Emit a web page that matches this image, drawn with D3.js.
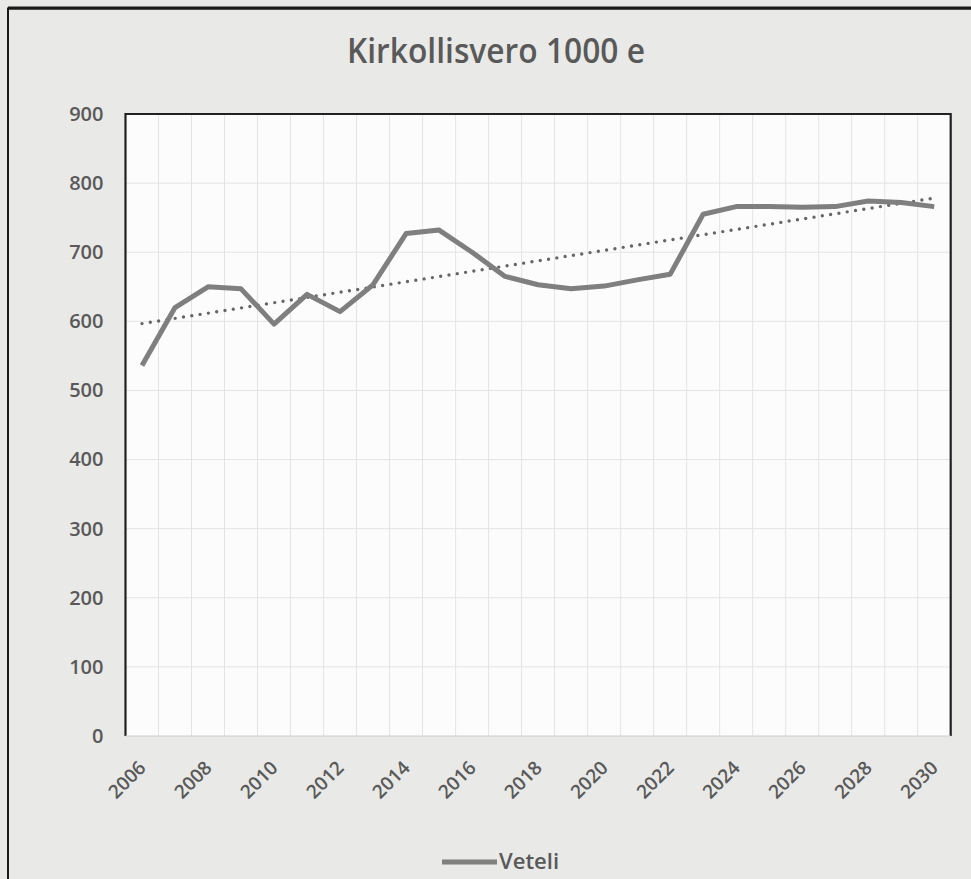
<!DOCTYPE html>
<html>
<head>
<meta charset="utf-8">
<script src="https://cdn.jsdelivr.net/npm/d3@7"></script>
<style>
  body { margin: 0; background: #e9e9e7; }
  svg { display: block; }
</style>
</head>
<body>
<div id="chart"></div>
<script>
(function() {
  var width = 971,
      height = 879;

  // data
  const years = ["2006","2007","2008","2009","2010","2011","2012","2013","2014","2015",
                 "2016","2017","2018","2019","2020","2021","2022","2023","2024","2025",
                 "2026","2027","2028","2029","2030"];
  const veteli = [536, 620, 650, 647, 596, 639, 614, 653, 727, 732,
                  700, 665, 653, 647, 651, 660, 668, 755, 766, 766,
                  765, 766, 774, 772, 766];
  const yTicks = [0, 100, 200, 300, 400, 500, 600, 700, 800, 900];
  const xLabels = ["2006","2008","2010","2012","2014","2016","2018","2020","2022",
                   "2024","2026","2028","2030"];
  const seriesName = "Veteli";
  const title = "Kirkollisvero 1000 e";

  const svg = d3.select("#chart").append("svg")
                .attr("width", width)
                .attr("height", height);

  // outer frame of the chart (heavier on top, as on the scan)
  svg.append("rect")
     .attr("x", 8).attr("y", 8.5)
     .attr("width", 1000).attr("height", 1000)
     .attr("fill", "none")
     .attr("stroke", "#1a1a1a")
     .attr("stroke-width", 2);
  svg.append("line")
     .attr("x1", 8).attr("x2", 971)
     .attr("y1", 8).attr("y2", 8)
     .attr("stroke", "#1a1a1a")
     .attr("stroke-width", 3);

  const left = 125.5, right = 950.7, top = 114, bottom = 736;

  var x = d3.scaleBand().domain(years).range([left, right]);
  var y = d3.scaleLinear().domain([0, 900]).range([bottom, top]);
  const cx = d => x(d) + x.bandwidth() / 2;

  // plot area
  svg.append("rect")
     .attr("x", left).attr("y", top)
     .attr("width", right - left).attr("height", bottom - top)
     .attr("fill", "#fcfcfc");

  // gridlines
  svg.append("g")
     .selectAll("line")
     .data(years.slice(1))
     .join("line")
     .attr("x1", d => x(d)).attr("x2", d => x(d))
     .attr("y1", top).attr("y2", bottom)
     .attr("stroke", "#e4e4e4")
     .attr("stroke-width", 1);

  svg.append("g")
     .selectAll("line")
     .data(yTicks.slice(1, -1))
     .join("line")
     .attr("x1", left).attr("x2", right)
     .attr("y1", d => y(d)).attr("y2", d => y(d))
     .attr("stroke", "#e4e4e4")
     .attr("stroke-width", 1);

  // frame of the plot area: heavy top, left and right
  svg.append("path")
     .attr("d", `M${left},${bottom}V${top}H${right}V${bottom}`)
     .attr("fill", "none")
     .attr("stroke", "#222")
     .attr("stroke-width", 2.2);
  svg.append("line")
     .attr("x1", left).attr("x2", right)
     .attr("y1", bottom).attr("y2", bottom)
     .attr("stroke", "#d0d0d0")
     .attr("stroke-width", 1);

  // y axis
  const yAxis = svg.append("g")
     .attr("transform", `translate(${left},0)`)
     .call(d3.axisLeft(y).tickValues(yTicks).tickSize(0).tickPadding(22));
  yAxis.select(".domain").remove();
  yAxis.selectAll("text")
       .attr("font-family", "Open Sans, sans-serif")
       .attr("font-size", 20)
       .attr("font-weight", 600)
       .attr("fill", "#595959");

  // x axis labels, rotated
  const xAxis = svg.append("g")
     .attr("transform", `translate(0,${bottom})`)
     .call(d3.axisBottom(x).tickValues(xLabels).tickSize(0));
  xAxis.select(".domain").remove();
  xAxis.selectAll("text")
       .attr("font-family", "Open Sans, sans-serif")
       .attr("font-size", 19)
       .attr("font-weight", 600)
       .attr("fill", "#595959")
       .attr("text-anchor", "end")
       .attr("dy", null)
       .attr("y", 0)
       .attr("transform", "translate(5,33) rotate(-45)");

  // linear trendline (least squares, like the spreadsheet trendline)
  const n = veteli.length;
  const mx = d3.mean(veteli, (d, i) => i);
  const my = d3.mean(veteli);
  const slope = d3.sum(veteli, (d, i) => (i - mx) * (d - my)) / d3.sum(veteli, (d, i) => (i - mx) * (i - mx));
  const trend = [0, n - 1].map(i => [cx(years[i]), y(my + slope * (i - mx))]);

  svg.append("path")
     .attr("d", d3.line()(trend))
     .attr("fill", "none")
     .attr("stroke", "#666")
     .attr("stroke-width", 3.4)
     .attr("stroke-linecap", "round")
     .attr("stroke-dasharray", "0 8.4");

  // the series line
  var line = d3.line()
               .x((d, i) => cx(years[i]))
               .y(d => y(d));
  svg.append("path")
     .datum(veteli)
     .attr("d", line)
     .attr("fill", "none")
     .attr("stroke", "#7f7f7f")
     .attr("stroke-width", 5)
     .attr("stroke-linejoin", "round");

  // title
  svg.append("text")
     .attr("x", 496).attr("y", 63)
     .attr("text-anchor", "middle")
     .attr("font-family", "Open Sans, sans-serif")
     .attr("font-weight", 600)
     .attr("font-size", 35)
     .attr("fill", "#595959")
     .attr("textLength", 298)
     .attr("lengthAdjust", "spacingAndGlyphs")
     .text(title);

  // legend
  const lg = svg.append("g");
  lg.append("line")
    .attr("x1", 442).attr("x2", 497)
    .attr("y1", 862).attr("y2", 862)
    .attr("stroke", "#7f7f7f")
    .attr("stroke-width", 5);
  lg.append("text")
    .attr("x", 499).attr("y", 869)
    .attr("font-family", "Open Sans, sans-serif")
    .attr("font-size", 22)
    .attr("font-weight", 600)
    .attr("fill", "#595959")
    .text(seriesName);
})();
</script>
</body>
</html>
